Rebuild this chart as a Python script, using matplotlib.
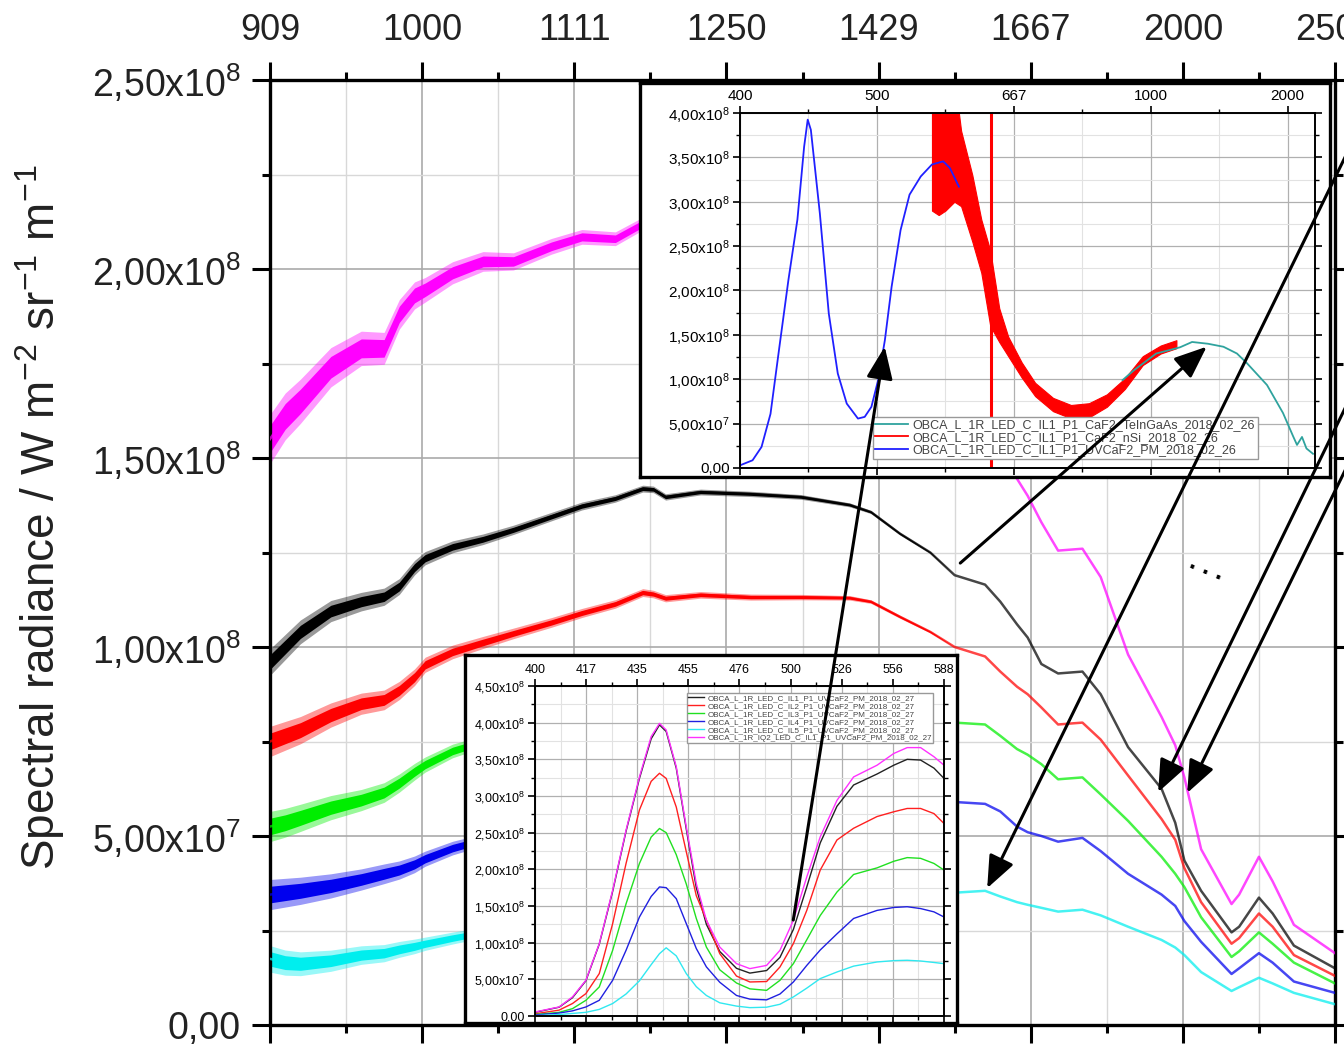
import numpy as np
import matplotlib.pyplot as plt
from matplotlib.ticker import MultipleLocator, FuncFormatter
from matplotlib.patches import ConnectionPatch

plt.rcParams['font.family'] = ['Liberation Sans', 'DejaVu Sans']
plt.rcParams['mathtext.fontset'] = 'custom'
plt.rcParams['mathtext.rm'] = 'Liberation Sans'
plt.rcParams['mathtext.it'] = 'Liberation Sans:italic'
plt.rcParams['mathtext.bf'] = 'Liberation Sans:bold'

SCALE = 1e8  # all radiance values below are in units of 1e8 W m-2 sr-1 m-1

# --- Main plot: IR range, x in wavenumber (cm-1) ---
main_wn = [11000, 10900, 10800, 10600, 10400, 10250, 10150, 10050, 9980, 9800,
           9600, 9400, 9150, 8950, 8730, 8550, 8480, 8400, 8170, 7840,
           7510, 7190, 7050, 6860, 6660, 6500, 6300, 6200, 6090, 6020,
           5930, 5820, 5660, 5540, 5360, 5140, 5050, 4990, 4880, 4680,
           4630, 4500, 4410, 4270, 4000]

main_il1 = [0.96, 1.00, 1.04, 1.095, 1.12, 1.133, 1.16, 1.21, 1.235, 1.265,
            1.285, 1.31, 1.345, 1.373, 1.393, 1.419, 1.417, 1.397, 1.41, 1.405,
            1.397, 1.376, 1.357, 1.30, 1.25, 1.19, 1.165, 1.12, 1.06, 1.025,
            0.955, 0.93, 0.935, 0.875, 0.735, 0.625, 0.535, 0.435, 0.355, 0.245,
            0.26, 0.337, 0.295, 0.21, 0.15]
main_il2 = [0.75, 0.765, 0.78, 0.82, 0.85, 0.86, 0.885, 0.92, 0.953, 0.987,
            1.012, 1.036, 1.065, 1.09, 1.114, 1.144, 1.14, 1.129, 1.138, 1.132,
            1.132, 1.13, 1.12, 1.08, 1.04, 1.0, 0.975, 0.935, 0.895, 0.875,
            0.84, 0.795, 0.80, 0.755, 0.66, 0.545, 0.49, 0.415, 0.325, 0.215,
            0.23, 0.295, 0.26, 0.185, 0.13]
main_il3 = [0.525, 0.535, 0.548, 0.575, 0.595, 0.615, 0.64, 0.67, 0.689, 0.725,
            0.75, 0.77, 0.79, 0.80, 0.81, 0.82, 0.82, 0.815, 0.82, 0.82,
            0.82, 0.82, 0.815, 0.81, 0.805, 0.80, 0.795, 0.765, 0.73, 0.715,
            0.69, 0.65, 0.655, 0.61, 0.54, 0.445, 0.40, 0.365, 0.285, 0.18,
            0.195, 0.245, 0.215, 0.165, 0.11]
main_il4 = [0.345, 0.35, 0.355, 0.368, 0.385, 0.40, 0.41, 0.425, 0.44, 0.468,
            0.49, 0.51, 0.53, 0.545, 0.56, 0.57, 0.57, 0.565, 0.575, 0.58,
            0.58, 0.585, 0.585, 0.59, 0.59, 0.59, 0.585, 0.565, 0.525, 0.51,
            0.50, 0.485, 0.495, 0.46, 0.40, 0.345, 0.315, 0.275, 0.22, 0.135,
            0.15, 0.19, 0.165, 0.115, 0.085]
main_il5 = [0.175, 0.165, 0.162, 0.17, 0.185, 0.19, 0.20, 0.208, 0.215, 0.23,
            0.245, 0.26, 0.275, 0.29, 0.30, 0.31, 0.31, 0.305, 0.315, 0.325,
            0.33, 0.34, 0.34, 0.345, 0.35, 0.35, 0.355, 0.34, 0.325, 0.318,
            0.31, 0.30, 0.305, 0.29, 0.26, 0.225, 0.205, 0.185, 0.14, 0.09,
            0.10, 0.125, 0.11, 0.085, 0.055]
main_iq2 = [1.55, 1.61, 1.65, 1.74, 1.79, 1.79, 1.88, 1.93, 1.945, 1.99,
            2.02, 2.02, 2.06, 2.085, 2.08, 2.12, 2.13, 2.14, 2.15, 2.15,
            2.13, 2.08, 2.03, 1.95, 1.82, 1.72, 1.60, 1.52, 1.445, 1.40,
            1.33, 1.255, 1.26, 1.185, 0.98, 0.815, 0.74, 0.655, 0.465, 0.32,
            0.345, 0.445, 0.38, 0.265, 0.19]

# how wide the measurement noise looks along the main grid (1 = widest, at 909 nm)
main_fuzz = [1.0, 0.95, 0.9, 0.8, 0.7, 0.65, 0.6, 0.55, 0.5, 0.45,
             0.4, 0.35, 0.32, 0.3, 0.28, 0.26, 0.25, 0.24, 0.22, 0.2,
             0.18, 0.15, 0.12, 0.1, 0.07, 0, 0, 0, 0, 0,
             0, 0, 0, 0, 0, 0, 0, 0, 0, 0,
             0, 0, 0, 0, 0]

# --- Inset 1: full range of one illumination, three detectors ---
uv_wn = [25000, 24541, 24214, 23886, 23559, 23231, 22903, 22658, 22527, 22412,
         22084, 21757, 21429, 21102, 20692, 20446, 20201, 19955, 19709, 19464,
         19136, 18808, 18399, 17989, 17580, 17334, 17006]
uv_val = [0.03, 0.087, 0.237, 0.61, 1.37, 2.12, 2.80, 3.62, 3.925, 3.81,
          2.87, 1.74, 1.065, 0.726, 0.557, 0.576, 0.689, 0.99, 1.44, 2.04,
          2.68, 3.08, 3.285, 3.42, 3.455, 3.38, 3.17]

nsi_wn = [17989, 17743, 17498, 17170, 16925, 16515, 16188, 15860, 15532, 15205,
          14713, 14222, 13567, 12912, 12257, 11601, 10946, 10291, 9636, 9062]
nsi_lo = [2.9, 2.85, 2.9, 3.0, 2.95, 2.55, 2.2, 1.6, 1.42, 1.26,
          1.02, 0.81, 0.64, 0.56, 0.57, 0.69, 0.89, 1.16, 1.29, 1.35]
nsi_hi = [4.6, 4.6, 4.6, 4.4, 3.8, 3.3, 2.8, 2.45, 1.8, 1.48,
          1.19, 0.96, 0.79, 0.71, 0.73, 0.83, 1.01, 1.26, 1.38, 1.44]
nsi_spike_wn = [15815, 15815]
nsi_spike_val = [-0.2, 4.8]

ingaas_wn = [11028, 10618, 9799, 8930, 8489, 7907, 7342, 6851, 6483, 5753,
             5169, 4803, 4657, 4475, 4312, 4073]
ingaas_val = [0.99, 1.10, 1.29, 1.36, 1.42, 1.40, 1.366, 1.29, 1.18, 0.935,
              0.62, 0.36, 0.26, 0.35, 0.22, 0.16]

# --- Inset 2: visible range, six illuminations ---
vis_wn = [25000, 24529, 24267, 24005, 23743, 23481, 23219, 22957, 22728, 22565,
          22434, 22237, 22041, 21845, 21648, 21386, 21059, 20797, 20470, 20208,
          19946, 19684, 19421, 19094, 18768, 18309, 17982, 17720, 17458, 17196,
          17000]
vis_il1 = [0.05, 0.12, 0.25, 0.48, 0.98, 1.70, 2.52, 3.24, 3.78, 3.97,
           3.88, 3.38, 2.55, 1.75, 1.25, 0.88, 0.65, 0.585, 0.62, 0.80,
           1.18, 1.76, 2.36, 2.86, 3.15, 3.30, 3.42, 3.50, 3.49, 3.38,
           3.24]
vis_il2 = [0.03, 0.08, 0.17, 0.305, 0.578, 1.26, 2.08, 2.81, 3.20, 3.31,
           3.24, 2.85, 2.24, 1.64, 1.31, 0.85, 0.545, 0.464, 0.47, 0.669,
           0.987, 1.44, 1.99, 2.40, 2.56, 2.72, 2.785, 2.83, 2.83, 2.76,
           2.625]
vis_il3 = [0.02, 0.05, 0.10, 0.214, 0.396, 0.896, 1.53, 2.08, 2.44, 2.557,
           2.50, 2.20, 1.80, 1.33, 0.94, 0.63, 0.45, 0.37, 0.35, 0.487,
           0.714, 1.04, 1.37, 1.69, 1.93, 2.02, 2.11, 2.16, 2.15, 2.08,
           1.99]
vis_il4 = [0.014, 0.04, 0.07, 0.123, 0.214, 0.487, 0.896, 1.35, 1.63, 1.76,
           1.75, 1.60, 1.26, 0.92, 0.67, 0.46, 0.28, 0.23, 0.22, 0.30,
           0.464, 0.69, 0.90, 1.12, 1.33, 1.44, 1.48, 1.49, 1.465, 1.42,
           1.35]
vis_il5 = [0.005, 0.02, 0.035, 0.05, 0.09, 0.17, 0.30, 0.48, 0.70, 0.85,
           0.93, 0.82, 0.578, 0.40, 0.28, 0.18, 0.135, 0.114, 0.12, 0.16,
           0.26, 0.38, 0.51, 0.60, 0.68, 0.737, 0.755, 0.76, 0.75, 0.73,
           0.714]
vis_iq2 = [0.055, 0.123, 0.26, 0.487, 0.987, 1.715, 2.534, 3.26, 3.81, 3.99,
           3.90, 3.40, 2.58, 1.806, 1.306, 0.94, 0.714, 0.646, 0.69, 0.896,
           1.306, 1.897, 2.443, 2.94, 3.26, 3.42, 3.58, 3.66, 3.66, 3.535,
           3.42]

lab1 = "OBCA_L_1R_LED_C_IL1_P1_CaF2_TeInGaAs_2018_02_26"
lab2 = "OBCA_L_1R_LED_C_IL1_P1_CaF2_nSi_2018_02_26"
lab3 = "OBCA_L_1R_LED_C_IL1_P1_UVCaF2_PM_2018_02_26"
vis_labels = ["OBCA_L_1R_LED_C_IL1_P1_UVCaF2_PM_2018_02_27",
              "OBCA_L_1R_LED_C_IL2_P1_UVCaF2_PM_2018_02_27",
              "OBCA_L_1R_LED_C_IL3_P1_UVCaF2_PM_2018_02_27",
              "OBCA_L_1R_LED_C_IL4_P1_UVCaF2_PM_2018_02_27",
              "OBCA_L_1R_LED_C_IL5_P1_UVCaF2_PM_2018_02_27",
              "OBCA_L_1R_IQ2_LED_C_IL1_P1_UVCaF2_PM_2018_02_27"]


def sci_comma(v, pos=None):
    if abs(v) < 1:
        return "0,00"
    e = int(np.floor(np.log10(abs(v)) + 1e-9))
    m = v / 10 ** e
    return f"{m:.2f}".replace(".", ",") + "x10$^{%d}$" % e


def nm_label(v, pos=None):
    return f"{1e7 / v:.0f}"


W, H = 1344, 1045


def box(x0, y0, x1, y1):
    return [x0 / W, 1 - y1 / H, (x1 - x0) / W, (y1 - y0) / H]


fig = plt.figure(figsize=(W / 100, H / 100), dpi=100)

# ---------------- main axes ----------------
ax = fig.add_axes(box(270, 80, 1335, 1025), zorder=0)
mw = np.array(main_wn)
fz = np.array(main_fuzz)
series = [(main_iq2, "#ff00ff", 0.065), (main_il1, "#000000", 0.035),
          (main_il2, "#ff0000", 0.04), (main_il3, "#00ee00", 0.04),
          (main_il4, "#0000ee", 0.04), (main_il5, "#00eeee", 0.035)]
for vals, col, amp in series:
    v = np.array(vals)
    # faint outer envelope of the noise, then the dense core
    ax.fill_between(mw, (v - amp * fz) * SCALE, (v + amp * fz) * SCALE,
                    color=col, lw=0, alpha=0.4, zorder=2)
    ax.fill_between(mw, (v - 0.55 * amp * fz) * SCALE, (v + 0.55 * amp * fz) * SCALE,
                    color=col, lw=0, zorder=2)
    ax.plot(mw, v * SCALE, color=col, lw=1.8, alpha=0.72, zorder=3)

ax.set_xlim(11000, 4000)
ax.set_ylim(0, 2.5e8)
ax.xaxis.set_major_locator(MultipleLocator(1000))
ax.xaxis.set_minor_locator(MultipleLocator(500))
ax.yaxis.set_major_locator(MultipleLocator(5e7))
ax.yaxis.set_minor_locator(MultipleLocator(2.5e7))
ax.xaxis.set_major_formatter(FuncFormatter(nm_label))
ax.yaxis.set_major_formatter(FuncFormatter(sci_comma))
ax.grid(True, which="major", color="#aaaaaa", lw=1.2)
ax.grid(True, which="minor", color="#d8d8d8", lw=1.0)
ax.set_axisbelow(True)
ax.tick_params(axis="x", which="both", top=True, bottom=True, labeltop=True,
               labelbottom=False, direction="out")
ax.tick_params(axis="y", which="both", left=True, right=True, direction="out")
ax.tick_params(which="major", length=13, width=2.2, labelsize=26, pad=10)
ax.tick_params(which="minor", length=6, width=2.2)
ax.tick_params(axis="y", labelsize=27, pad=8, labelcolor="#222222")
ax.tick_params(axis="x", labelcolor="#222222")
for s in ax.spines.values():
    s.set_linewidth(2.4)

fig.text(40 / W, 1 - 517 / H,
         "Spectral radiance / W m$^{-2}$ sr$^{-1}$ m$^{-1}$",
         rotation=90, ha="center", va="center", fontsize=33, color="#222222")


def style_inset(a, labelsize):
    a.xaxis.set_major_formatter(FuncFormatter(nm_label))
    a.yaxis.set_major_formatter(FuncFormatter(sci_comma))
    a.yaxis.set_major_locator(MultipleLocator(5e7))
    a.yaxis.set_minor_locator(MultipleLocator(2.5e7))
    a.grid(True, which="major", color="#b0b0b0", lw=0.9)
    a.grid(True, which="minor", color="#e2e2e2", lw=0.8)
    a.set_axisbelow(True)
    a.tick_params(axis="x", which="both", top=True, bottom=True, labeltop=True,
                  labelbottom=False, direction="out")
    a.tick_params(axis="y", which="both", left=True, right=True, direction="out")
    a.tick_params(which="major", length=5, width=1.2, labelsize=labelsize, pad=2)
    a.tick_params(which="minor", length=3, width=1.0)
    for s in a.spines.values():
        s.set_linewidth(1.4)


# ---------------- inset 1 ----------------
fr1 = fig.add_axes(box(640, 83, 1330, 477), zorder=1)
fr1.set_xticks([])
fr1.set_yticks([])
for s in fr1.spines.values():
    s.set_linewidth(2.4)

ax1 = fig.add_axes(box(740, 113, 1315, 468), zorder=2)
ax1.plot(ingaas_wn, np.array(ingaas_val) * SCALE, color="#2fa39e", lw=1.3, label=lab1)
ax1.fill_between(nsi_wn, np.array(nsi_lo) * SCALE, np.array(nsi_hi) * SCALE,
                 color="#ff0000", lw=0.8, edgecolor="#ff0000")
ax1.plot(nsi_spike_wn, np.array(nsi_spike_val) * SCALE, color="#ff0000", lw=2.2)
ax1.plot([], [], color="#ff0000", lw=1.3, label=lab2)
ax1.plot(uv_wn, np.array(uv_val) * SCALE, color="#2020ff", lw=1.3, label=lab3)
ax1.set_xlim(25000, 4000)
ax1.set_ylim(0, 4e8)
ax1.xaxis.set_major_locator(MultipleLocator(5000))
ax1.xaxis.set_minor_locator(MultipleLocator(2500))
style_inset(ax1, 11)
ax1.legend(loc="lower right", bbox_to_anchor=((1264 - 740) / 575, 0.008),
           fontsize=9, frameon=True, fancybox=False, edgecolor="#999999",
           framealpha=1, labelspacing=0.05, handlelength=2.6, borderpad=0.2,
           handletextpad=0.4, labelcolor="#444444")

# ---------------- inset 2 ----------------
fr2 = fig.add_axes(box(465, 655, 957, 1023), zorder=3)
fr2.set_xticks([])
fr2.set_yticks([])
for s in fr2.spines.values():
    s.set_linewidth(2.4)

ax2 = fig.add_axes(box(535, 686, 944, 1016), zorder=4)
vis_cols = ["#222222", "#ff2020", "#20e020", "#2020e0", "#30e8f0", "#ff30ff"]
for vals, col, lab in zip([vis_il1, vis_il2, vis_il3, vis_il4, vis_il5, vis_iq2],
                          vis_cols, vis_labels):
    ax2.plot(vis_wn, np.array(vals) * SCALE, color=col, lw=1.0, label=lab)
ax2.set_xlim(25000, 17000)
ax2.set_ylim(0, 4.5e8)
ax2.xaxis.set_major_locator(MultipleLocator(1000))
ax2.xaxis.set_minor_locator(MultipleLocator(500))
style_inset(ax2, 9)
ax2.legend(loc="upper right", bbox_to_anchor=((937 - 535) / 409, (1016 - 689) / 330),
           fontsize=5.8, frameon=True, fancybox=False, edgecolor="#999999",
           framealpha=1, labelspacing=0.05, handlelength=2.0, borderpad=0.15,
           handletextpad=0.4, labelcolor="#444444")

# ---------------- arrows ----------------
arrow_kw = dict(arrowstyle="-|>,head_length=1.1,head_width=0.45", mutation_scale=18,
                color="black", lw=2.2, zorder=20)
links = [
    ((19948, 1.309e8), ax2.transData, (19715, 1.367e8), ax1.transData),
    ((6463, 1.222e8), ax.transData, (7955, 1.367e8), ax1.transData),
    ((1.0216, 0.9043), fig.transFigure, (6286, 0.362e8), ax.transData),
    ((1.040, 0.713), fig.transFigure, (5162, 0.616e8), ax.transData),
    ((1.0446, 0.665), fig.transFigure, (4971, 0.614e8), ax.transData),
]
for xa, ca, xb, cb in links:
    con = ConnectionPatch(xyA=xa, coordsA=ca, xyB=xb, coordsB=cb, **arrow_kw)
    fig.add_artist(con)

fig.text(1207 / W, 1 - 567 / H, ". . .", rotation=-22, ha="center", va="center",
         fontsize=18, fontweight="bold", zorder=20)

fig.savefig("out.png", dpi=100)
